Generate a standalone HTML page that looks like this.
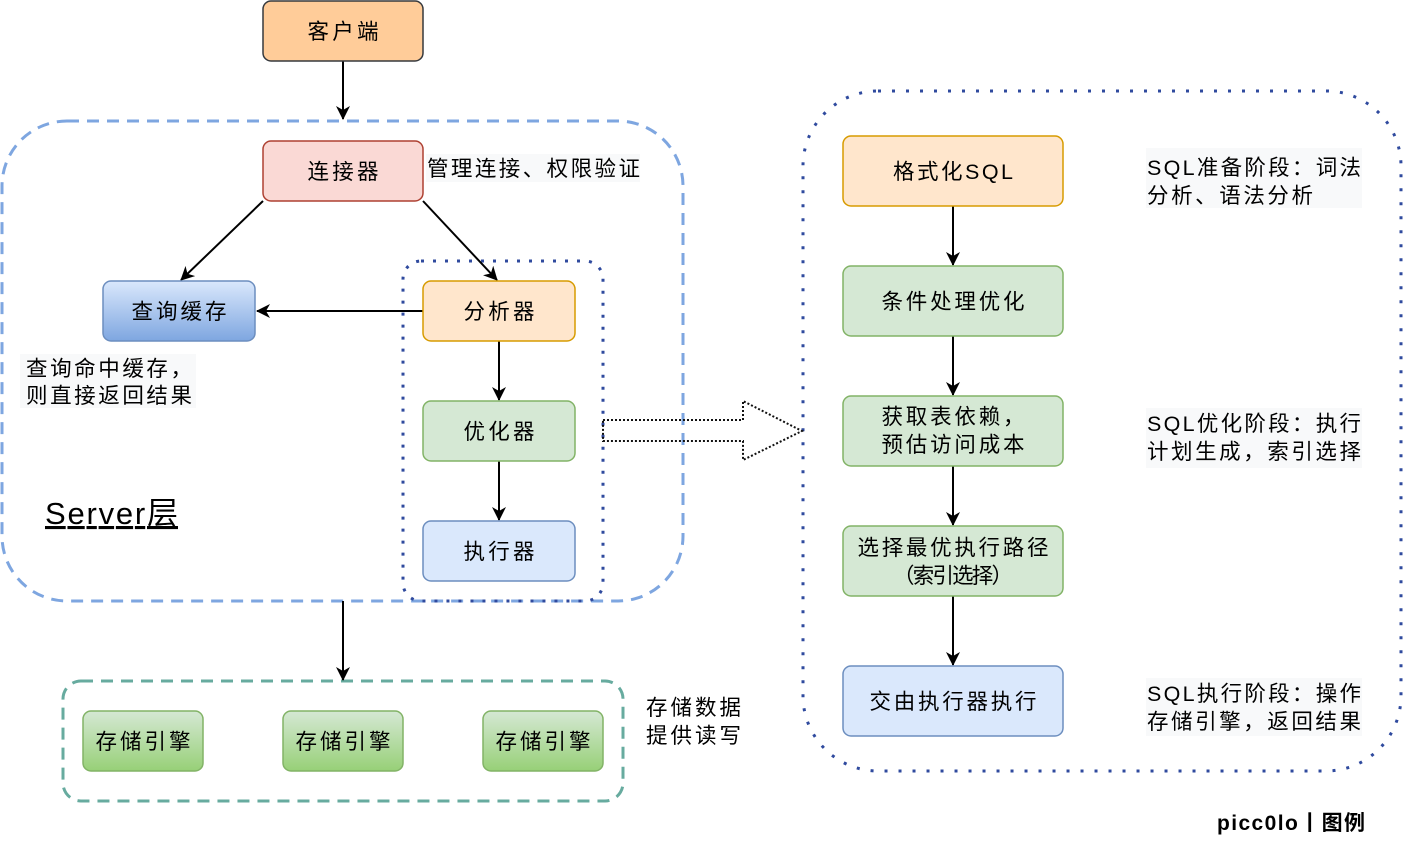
<!DOCTYPE html>
<html><head><meta charset="utf-8"><style>
html,body{margin:0;padding:0;background:#fff;width:1404px;height:842px;overflow:hidden}
svg text{font-family:"Liberation Sans","Noto Sans CJK SC",sans-serif;font-size:21.5px;fill:#000}
</style></head><body>
<svg width="1404" height="842" viewBox="0 0 1404 842" xmlns="http://www.w3.org/2000/svg">
<defs>
<marker id="b" viewBox="0 0 14 14" refX="13" refY="7" markerWidth="14" markerHeight="14" markerUnits="userSpaceOnUse" orient="auto"><path d="M0,0 L14,7 L0,14 L4,7 z" fill="#000"/></marker>
<linearGradient id="gb" x1="0" y1="0" x2="0" y2="1"><stop offset="0" stop-color="#dae8fc"/><stop offset="1" stop-color="#7ea6e0"/></linearGradient>
<linearGradient id="gg" x1="0" y1="0" x2="0" y2="1"><stop offset="0" stop-color="#d5e8d4"/><stop offset="1" stop-color="#97d077"/></linearGradient>
</defs>
<rect x="2" y="121" width="681" height="480" rx="65" fill="none" stroke="#7ea6e0" stroke-width="3" stroke-dasharray="12 8"/>
<rect x="403" y="261" width="200" height="340" rx="18" fill="none" stroke="#2f4a9e" stroke-width="3" stroke-dasharray="3 9"/>
<rect x="63" y="681" width="560" height="120" rx="18" fill="none" stroke="#67ab9f" stroke-width="3" stroke-dasharray="12 8"/>
<rect x="803" y="91" width="598" height="680" rx="75" fill="none" stroke="#2f4a9e" stroke-width="3" stroke-dasharray="3 11"/>
<path d="M603,420 L743,420 L743,401 L802,431 L743,460 L743,441 L603,441 Z" fill="none" stroke="#111" stroke-width="2" stroke-dasharray="2 2"/>
<line x1="343" y1="61" x2="343" y2="119" stroke="#000" stroke-width="2" marker-end="url(#b)"/>
<line x1="263" y1="201" x2="181" y2="280" stroke="#000" stroke-width="2" marker-end="url(#b)"/>
<line x1="423" y1="201" x2="497" y2="280" stroke="#000" stroke-width="2" marker-end="url(#b)"/>
<line x1="423" y1="311" x2="257" y2="311" stroke="#000" stroke-width="2" marker-end="url(#b)"/>
<line x1="499" y1="341" x2="499" y2="400" stroke="#000" stroke-width="2" marker-end="url(#b)"/>
<line x1="499" y1="461" x2="499" y2="520" stroke="#000" stroke-width="2" marker-end="url(#b)"/>
<line x1="343" y1="601" x2="343" y2="680" stroke="#000" stroke-width="2" marker-end="url(#b)"/>
<line x1="953" y1="206" x2="953" y2="265" stroke="#000" stroke-width="2" marker-end="url(#b)"/>
<line x1="953" y1="336" x2="953" y2="395" stroke="#000" stroke-width="2" marker-end="url(#b)"/>
<line x1="953" y1="466" x2="953" y2="525" stroke="#000" stroke-width="2" marker-end="url(#b)"/>
<line x1="953" y1="596" x2="953" y2="665" stroke="#000" stroke-width="2" marker-end="url(#b)"/>
<rect x="263" y="1" width="160" height="60" rx="8" fill="#ffcc99" stroke="#36393d" stroke-width="1.5"/>
<text x="343" y="39" text-anchor="middle" textLength="71">客户端</text>
<rect x="263" y="141" width="160" height="60" rx="8" fill="#fad9d5" stroke="#ae4132" stroke-width="1.5"/>
<text x="343" y="179" text-anchor="middle" textLength="71">连接器</text>
<rect x="103" y="281" width="152" height="60" rx="8" fill="url(#gb)" stroke="#6c8ebf" stroke-width="1.5"/>
<text x="179" y="319" text-anchor="middle" textLength="95">查询缓存</text>
<rect x="423" y="281" width="152" height="60" rx="8" fill="#ffe6cc" stroke="#d79b00" stroke-width="1.5"/>
<text x="499" y="319" text-anchor="middle" textLength="71">分析器</text>
<rect x="423" y="401" width="152" height="60" rx="8" fill="#d5e8d4" stroke="#82b366" stroke-width="1.5"/>
<text x="499" y="439" text-anchor="middle" textLength="71">优化器</text>
<rect x="423" y="521" width="152" height="60" rx="8" fill="#dae8fc" stroke="#6c8ebf" stroke-width="1.5"/>
<text x="499" y="559" text-anchor="middle" textLength="71">执行器</text>
<rect x="83" y="711" width="120" height="60" rx="8" fill="url(#gg)" stroke="#82b366" stroke-width="1.5"/>
<text x="143" y="749" text-anchor="middle" textLength="95">存储引擎</text>
<rect x="283" y="711" width="120" height="60" rx="8" fill="url(#gg)" stroke="#82b366" stroke-width="1.5"/>
<text x="343" y="749" text-anchor="middle" textLength="95">存储引擎</text>
<rect x="483" y="711" width="120" height="60" rx="8" fill="url(#gg)" stroke="#82b366" stroke-width="1.5"/>
<text x="543" y="749" text-anchor="middle" textLength="95">存储引擎</text>
<rect x="843" y="136" width="220" height="70" rx="8" fill="#ffe6cc" stroke="#d79b00" stroke-width="1.5"/>
<text x="953" y="179" text-anchor="middle" textLength="120">格式化SQL</text>
<rect x="843" y="266" width="220" height="70" rx="8" fill="#d5e8d4" stroke="#82b366" stroke-width="1.5"/>
<text x="953" y="309" text-anchor="middle" textLength="143">条件处理优化</text>
<rect x="843" y="396" width="220" height="70" rx="8" fill="#d5e8d4" stroke="#82b366" stroke-width="1.5"/>
<text x="953" y="424" text-anchor="middle" textLength="143">获取表依赖，</text>
<text x="953" y="452" text-anchor="middle" textLength="143">预估访问成本</text>
<rect x="843" y="526" width="220" height="70" rx="8" fill="#d5e8d4" stroke="#82b366" stroke-width="1.5"/>
<text x="953" y="555" text-anchor="middle" textLength="191">选择最优执行路径</text>
<text x="953" y="583" text-anchor="middle" textLength="120">（索引选择）</text>
<rect x="843" y="666" width="220" height="70" rx="8" fill="#dae8fc" stroke="#6c8ebf" stroke-width="1.5"/>
<text x="953" y="709" text-anchor="middle" textLength="167">交由执行器执行</text>
<rect x="426" y="154" width="214" height="28" fill="#f8f9fa"/>
<text x="427" y="176" textLength="213">管理连接、权限验证</text>
<rect x="20" y="354" width="176" height="54" fill="#f8f9fa"/>
<text x="26" y="376" textLength="166">查询命中缓存，</text>
<text x="26" y="403" textLength="166">则直接返回结果</text>
<text x="45" y="524" style="font-size:31px;text-decoration:underline" textLength="133">Server层</text>
<text x="646" y="715" textLength="95">存储数据</text>
<text x="646" y="743" textLength="95">提供读写</text>
<rect x="1146" y="148" width="216" height="60" fill="#f8f9fa"/>
<text x="1147" y="175" textLength="214">SQL准备阶段：词法</text>
<text x="1147" y="203" textLength="166">分析、语法分析</text>
<rect x="1146" y="408" width="216" height="60" fill="#f8f9fa"/>
<text x="1147" y="431" textLength="214">SQL优化阶段：执行</text>
<text x="1147" y="459" textLength="214">计划生成，索引选择</text>
<rect x="1146" y="678" width="216" height="58" fill="#f8f9fa"/>
<text x="1147" y="701" textLength="214">SQL执行阶段：操作</text>
<text x="1147" y="729" textLength="214">存储引擎，返回结果</text>
<text x="1217" y="830" style="font-weight:bold;font-size:21px" textLength="148">picc0lo丨图例</text>
</svg>
</body></html>
